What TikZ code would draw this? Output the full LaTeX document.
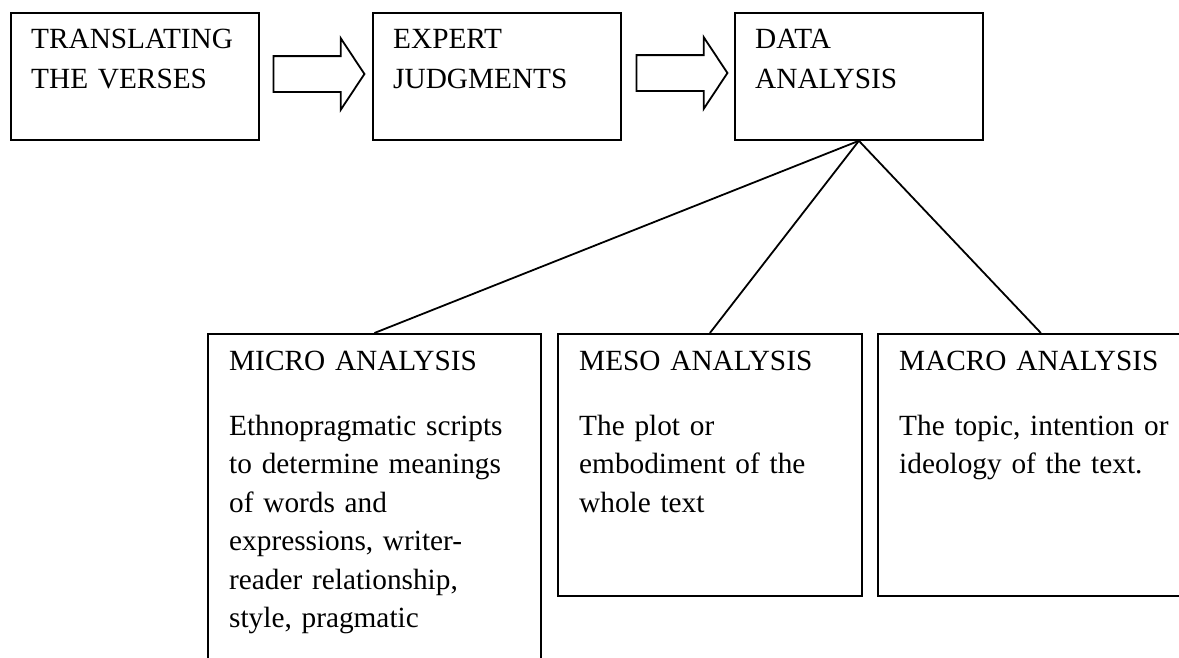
\documentclass[tikz,border=0pt]{standalone}
\usepackage{fontspec}
\setmainfont{Liberation Serif}
\usetikzlibrary{shapes.arrows}

\begin{document}
\begin{tikzpicture}[x=1pt, y=-1pt,
		box/.style={draw, line width=1.8pt, rectangle, inner sep=0pt, anchor=north west},
		stepbox/.style={box, minimum width=248pt, minimum height=127pt},
		boxtext/.style={anchor=base west, inner sep=0pt, text width=320pt, align=left, font=\fontsize{29.3}{40}\selectfont},
		bodytext/.style={boxtext, font=\fontsize{29.3}{38.5}\selectfont},
		fatarrow/.style={draw, line width=1.8pt, single arrow, single arrow head extend=18pt, single arrow tip angle=113, inner sep=17pt, minimum height=91pt},
		link/.style={line width=1.8pt}]
		\useasboundingbox (0,0) rectangle (1179,657);

		% Top row: the three steps
		\node[stepbox] (trans) at (10,12) {};
		\node[stepbox] (expert) at (372,12) {};
		\node[stepbox] (data) at (734,12) {};
		\node[boxtext] (transtxt) at ([shift={(21,36)}]trans.north west) {TRANSLATING\\THE VERSES};
		\node[boxtext] (experttxt) at ([shift={(21,36)}]expert.north west) {EXPERT\\JUDGMENTS};
		\node[boxtext] (datatxt) at ([shift={(21,36)}]data.north west) {DATA\\ANALYSIS};

		% Block arrows between the steps
		\node[fatarrow] (arrowa) at (313,74) {};
		\node[fatarrow] (arrowb) at (676,73) {};

		% Bottom row: the three levels of analysis
		\node[box, minimum width=333pt, minimum height=340pt] (micro) at (207,333) {};
		\node[box, minimum width=304pt, minimum height=262pt] (meso) at (557,333) {};
		\node[box, minimum width=326pt, minimum height=262pt] (macro) at (877,333) {};

		\node[boxtext] (microhead) at ([shift={(22,37)}]micro.north west) {MICRO ANALYSIS};
		\node[bodytext] (microbody) at ([shift={(22,102)}]micro.north west)
			{Ethnopragmatic scripts\\to determine meanings\\of words and\\expressions, writer-\\reader relationship,\\style, pragmatic};
		\node[boxtext] (mesohead) at ([shift={(22,37)}]meso.north west) {MESO ANALYSIS};
		\node[bodytext] (mesobody) at ([shift={(22,102)}]meso.north west)
			{The plot or\\embodiment of the\\whole text};
		\node[boxtext] (macrohead) at ([shift={(22,37)}]macro.north west) {MACRO ANALYSIS};
		\node[bodytext] (macrobody) at ([shift={(22,102)}]macro.north west)
			{The topic, intention or\\ideology of the text.};

		% Lines from data analysis down to each level
		\draw[link] (data.south) -- (micro.north);
		\draw[link] (data.south) -- (meso.north);
		\draw[link] (data.south) -- (macro.north);
	\end{tikzpicture}
\end{document}
